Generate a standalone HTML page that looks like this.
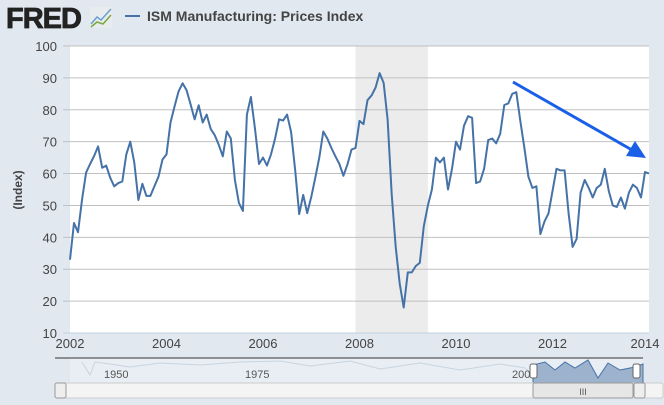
<!DOCTYPE html>
<html><head><meta charset="utf-8"><style>
body{margin:0;width:664px;height:405px;background:#e1e8f0;font-family:"Liberation Sans",sans-serif;overflow:hidden;position:relative}
svg{position:absolute;left:0;top:0}
</style></head><body>
<svg width="664" height="405">
<g>
<text x="6" y="28" font-size="29" font-weight="900" fill="#222" letter-spacing="-1" font-family="Liberation Sans" stroke="#222" stroke-width="0.8">FRED</text>
<rect x="90" y="7" width="22" height="21" fill="#e8ecef" rx="2"/>
<polyline points="91,24 97,17 101,20 111,9" fill="none" stroke="#6a9fd0" stroke-width="1.5"/>
<polyline points="91,27 97,22 103,24 111,15" fill="none" stroke="#7aa83a" stroke-width="1.5"/>
</g>
<g>
<line x1="125" y1="16" x2="140" y2="16" stroke="#4572a7" stroke-width="2"/>
<text x="147" y="21" font-size="14" font-weight="bold" fill="#444">ISM Manufacturing: Prices Index</text>
</g>
<rect x="70" y="46" width="579" height="287" fill="#fff"/>
<g id="rec"></g><g id="grid"></g><g id="ylab"></g><g id="xlab"></g>
<text x="22" y="190" font-size="12" font-weight="bold" fill="#444" text-anchor="middle" transform="rotate(-90 22 190)">(Index)</text>
<path id="line" fill="none" stroke="#4572a7" stroke-width="2" stroke-linejoin="round"/>
<g>
<line x1="513" y1="82" x2="632" y2="150" stroke="#1a5fe8" stroke-width="3"/>
<polygon points="646,158 626,156 635,141" fill="#1a5fe8"/>
</g>
<g>
<rect x="70" y="358" width="573" height="25" fill="#e8eef4"/>
<line x1="55" y1="358" x2="643" y2="358" stroke="#333"/>
<path d="M82,362 L90,375 L95,362 L110,364 L130,367 L160,363 L200,365 L240,362 L280,361 L310,366 L350,361 L380,369 L420,363 L460,370 L500,364 L525,368 L533,375" fill="none" stroke="#c8d4e0"/>
<path d="M533,383 L533,365 L545,362 L555,370 L565,362 L575,368 L588,360 L598,378 L608,363 L620,370 L635,367 L643,364 L643,383Z" fill="#9db2cc" stroke="#4572a7"/>
<text x="104" y="378" font-size="11" fill="#555">1950</text>
<text x="245" y="378" font-size="11" fill="#555">1975</text>
<text x="512" y="378" font-size="11" fill="#555">2000</text>
<rect x="530" y="364" width="7" height="14" fill="#fff" stroke="#666" rx="2"/>
<rect x="633" y="364" width="7" height="14" fill="#fff" stroke="#666" rx="2"/>
<rect x="55" y="383" width="608" height="15" fill="#f4f4f4" stroke="#ccc" rx="2"/>
<rect x="55" y="383" width="11" height="15" fill="#eee" stroke="#999" rx="2"/>
<rect x="533" y="383" width="100" height="15" fill="#e6e6e6" stroke="#999" rx="2"/>
<rect x="634" y="383" width="11" height="15" fill="#eee" stroke="#999" rx="2"/>
<text x="583" y="395" font-size="9" fill="#555" text-anchor="middle">III</text>
</g>
</svg>
<script>
const yTicks=[10,20,30,40,50,60,70,80,90,100];
const xTicks=[2002,2004,2006,2008,2010,2012,2014];
const recessions=[[2007.917,2009.417]];
const values=[33,44.5,41.6,52,60.3,63,65.5,68.5,61.8,62.5,58.7,56,
57,57.5,66,70,63.4,51.7,56.8,53,53,56,59,64.4,
66,76,81,85.8,88.3,86.1,81.7,77,81.4,76,78.5,74,
72,69,65.4,73.2,71,58,50.8,48.3,78.5,84,74,63,
65,62.5,66,71,77,76.6,78.5,73,61,47.3,53.3,47.6,
52.7,58.7,65,73.2,71,68,65.4,63,59.3,62.8,67.5,68,
76.5,75.5,83,84.5,87,91.5,88.5,77,53.5,37,25.5,18,
29,29,31,32,43.5,50,55,65,63.5,65,55,61.5,
70,67.5,75,78,77.5,57,57.5,61.5,70.5,71,69.5,72.5,
81.5,82,85,85.5,76.5,68,59,55.5,56,41,45,47.5,
54.5,61.5,61,61,47.5,37,39.5,54,58,55.5,52.5,55.5,
56.5,61.5,54.5,50,49.5,52.5,49,54,56.5,55.5,52.5,60.5,60];
const X0=70,X1=649,Y0=333,Y1=46;
const xs=t=>X0+(t-2002)/12*(X1-X0);
const ys=v=>Y0-(v-10)/90*(Y0-Y1);
const NS='http://www.w3.org/2000/svg';
function mk(tag,parent,attrs){const e=document.createElementNS(NS,tag);for(const k in attrs)e.setAttribute(k,attrs[k]);document.getElementById(parent).appendChild(e);return e;}
recessions.forEach(r=>{const e=mk('rect','rec',{x:xs(r[0]),y:Y1,width:xs(r[1])-xs(r[0]),height:Y0-Y1,fill:'#ececec'});

});
yTicks.forEach(v=>{const g=mk('line','grid',{x1:63,x2:X1,y1:ys(v),y2:ys(v),stroke:v==10?'#c0d0e0':'#c0c0c0'});


const t=mk('text','ylab',{x:57,y:ys(v)+5,'font-size':13,fill:'#444','text-anchor':'end'});t.textContent=v;

});
xTicks.forEach(v=>{const t=mk('text','xlab',{x:xs(v)-(v==2014?4:0),y:348,'font-size':13,fill:'#444','text-anchor':'middle'});t.textContent=v;

});
const n=values.length;
let d='';values.forEach((v,i)=>{d+=(i?'L':'M')+(X0+i/(n-1)*(X1-X0)).toFixed(1)+','+ys(v).toFixed(1);});
document.getElementById('line').setAttribute('d',d);
</script>
</body></html>
